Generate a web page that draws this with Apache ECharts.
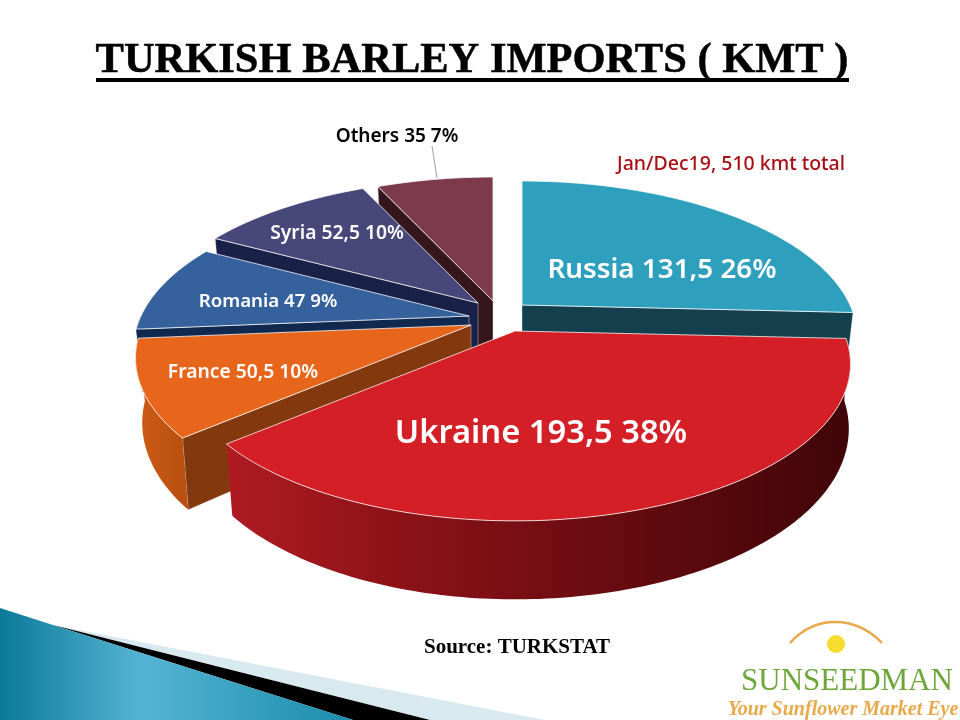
<!DOCTYPE html>
<html><head><meta charset="utf-8">
<style>html,body{margin:0;padding:0;background:#fff}#c{width:960px;height:720px}</style>
<script src="https://cdn.jsdelivr.net/npm/echarts@6/dist/echarts.min.js"></script>
</head><body><div id="c"></div>
<script>
const categories = ['Russia','Ukraine','France','Romania','Syria','Others'];
const values = [131.5,193.5,50.5,47,52.5,35];
const percents = [26,38,10,9,10,7];
const titleText = 'TURKISH BARLEY IMPORTS ( KMT )';
const periodText = 'Jan/Dec19, 510 kmt total';
const sourceText = 'Source: TURKSTAT';

const topColors = ['#2ea0bd','#d41f27','#e8651c','#35619c','#47477a','#7c3a4c'];
const faceColors = ['#143f4d','#5a0a0e','#83380e','#12294f','#1a2148','#35161c'];
const paintOrder = [4,5,3,2,1,0];           // back to front
const explodeOffset = [[25,-9],[18,17],[-26,11],[-28,2],[-19,-11],[-4,-13]];
const rightShrink = [0.978,0.995,0.995,0.995,0.995,0.995];
const labelPos = [[662,270,27.8],[541,434,32.7],[243,373,19.3],[268,302,18.7],[337,234,19.3],[397,137,19]];

const CX=497, CY=314, RX=328, RY=150, K=0.21, DEPTH=62;
const total = values.reduce((a,b)=>a+b,0);
const rad = d=>d*Math.PI/180;
function proj(a,deg,r,low,i){
  const X=r*Math.sin(rad(deg)),Y=r*Math.cos(rad(deg)),D=1+K*Y;
  let sx=a[0]+RX*X/D, sy=a[1]-RY*Y/D;
  if(low){sx=a[0]+(sx-a[0])*(X<0?0.98:rightShrink[i]); sy+=DEPTH/D;}
  return [sx,sy];
}
function arc(a,s,e,low,i){
  const out=[],n=Math.max(2,Math.ceil(Math.abs(e-s)));
  for(let j=0;j<=n;j++)out.push(proj(a,s+(e-s)*j/n,1,low,i));
  return out;
}
function renderItem(params,api){
  const i=params.dataIndex;
  const before=values.slice(0,i).reduce((p,q)=>p+q,0);
  const s=before/total*360, e=(before+api.value(1))/total*360;
  const a=[CX+explodeOffset[i][0],CY+explodeOffset[i][1]];
  const z=paintOrder[i]*3+1;
  const kids=[];
  const face=(deg)=>({type:'polygon',z2:z,shape:{points:[proj(a,deg,0,false,i),proj(a,deg,1,false,i),proj(a,deg,1,true,i),proj(a,deg,0,true,i)]},
    style:{fill:faceColors[i],stroke:'rgba(255,255,255,0.55)',lineWidth:0.7}});
  if(Math.sin(rad(s))<-0.01)kids.push(face(s));
  if(Math.sin(rad(e))>0.01)kids.push(face(e));
  const ws=Math.max(s,90), we=Math.min(e,270);
  if(we>ws && i!==0){
    const up=arc(a,ws,we,false,i),lo=arc(a,ws,we,true,i).reverse();
    const xs=up.map(p=>p[0]);
    let fill=faceColors[i];
    if(i===1)fill={type:'linear',x:Math.max(...xs),y:0,x2:Math.min(...xs),y2:0,global:true,colorStops:
      [{offset:0,color:'#3f0508'},{offset:0.3,color:'#5f0a0e'},{offset:0.75,color:'#8f1319'},{offset:1,color:'#b01b22'}]};
    if(i===2)fill={type:'linear',x:Math.max(...xs),y:0,x2:Math.min(...xs),y2:0,global:true,colorStops:
      [{offset:0,color:'#b85010'},{offset:1,color:'#cf5c16'}]};
    kids.push({type:'polygon',z2:z+1,shape:{points:up.concat(lo)},style:{fill}});
  }
  kids.push({type:'polygon',z2:z+2,shape:{points:[proj(a,s,0,false,i)].concat(arc(a,s,e,false,i))},
    style:{fill:topColors[i],stroke:'rgba(255,255,255,0.75)',lineWidth:1}});
  const lp=labelPos[i];
  kids.push({type:'text',z2:100,x:lp[0],y:lp[1],style:{
    text:categories[i]+' '+String(api.value(1)).replace('.',',')+' '+percents[i]+'%',
    fill:i===5?'#000':'#fff',font:'600 '+lp[2]+'px "Noto Sans"',align:'center',verticalAlign:'middle'}});
  return {type:'group',children:kids};
}
const chart=echarts.init(document.getElementById('c'),null,{renderer:'canvas'});
chart.setOption({
  backgroundColor:'#fff',animation:false,
  series:[{type:'custom',coordinateSystem:'none',renderItem,silent:true,
    data:values.map((v,i)=>[i,v])}],
  graphic:[
    {type:'polygon',z:-5,shape:{points:[[53,625],[545,720],[430,720]]},style:{fill:'#d9e9f0'}},
    {type:'polygon',z:-4,shape:{points:[[53,625],[430,720],[353,720]]},style:{fill:'#000'}},
    {type:'polygon',z:-3,shape:{points:[[0,608],[53,625],[353,720],[0,720]]},style:{fill:{type:'linear',x:0,y:0,x2:353,y2:0,global:true,
      colorStops:[{offset:0,color:'#0b7a99'},{offset:0.4,color:'#55b4d3'},{offset:1,color:'#1b8cab'}]}}},
    {type:'text',x:472,y:61,style:{text:titleText,font:'bold 42.5px "Liberation Serif"',fill:'#000',stroke:'#000',lineWidth:0.5,align:'center',verticalAlign:'middle'}},
    {type:'rect',shape:{x:96,y:78,width:753,height:4},style:{fill:'#000'}},
    {type:'text',x:731,y:164,style:{text:periodText,font:'500 19.5px "Noto Sans"',fill:'#a80f14',align:'center',verticalAlign:'middle'}},
    {type:'text',x:517,y:648,style:{text:sourceText,font:'bold 21px "Liberation Serif"',fill:'#000',align:'center',verticalAlign:'middle'}},
    {type:'line',shape:{x1:432,y1:146,x2:437,y2:178},style:{stroke:'#a0a0a0',lineWidth:1}},
    {type:'bezierCurve',shape:{x1:790,y1:643,cpx1:815,cpy1:615,x2:882,y2:643,cpx2:855,cpy2:615},style:{stroke:'#e8a94a',lineWidth:2.5,fill:'none'}},
    {type:'circle',shape:{cx:836,cy:644,r:9},style:{fill:'#f5dc2f'}},
    {type:'text',x:847,y:682,style:{text:'SUNSEEDMAN',font:'31px "Liberation Serif"',fill:'#6fa63c',align:'center',verticalAlign:'middle'}},
    {type:'text',x:843,y:710,style:{text:'Your Sunflower Market Eye',font:'italic bold 20px "Liberation Serif"',fill:'#e8a94a',align:'center',verticalAlign:'middle'}}
  ]
});
</script></body></html>
